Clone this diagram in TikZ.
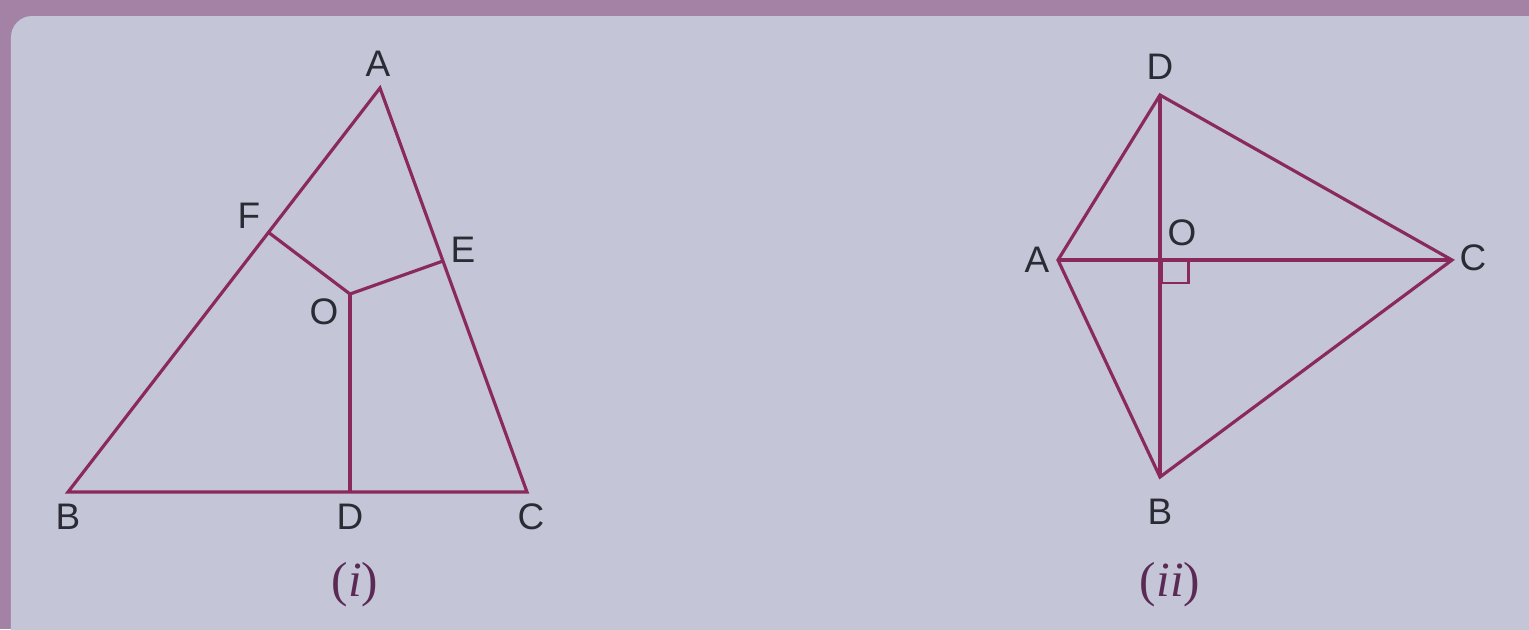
\documentclass[tikz,border=0pt]{standalone}
\usepackage{fontspec}
\setmainfont{Liberation Serif}
\setsansfont{Liberation Sans}
\usetikzlibrary{positioning}

\definecolor{frame}{HTML}{A482A6}
\definecolor{panel}{HTML}{C4C5D6}
\definecolor{edge}{HTML}{8A2A5C}
\definecolor{ink}{HTML}{2B2B36}
\definecolor{capt}{HTML}{5A2A55}

\begin{document}
\begin{tikzpicture}[
  x=0.01cm, y=-0.01cm,
  seg/.style={draw=edge, line width=0.9pt, line join=miter},
  lbl/.style={text=ink, inner sep=0pt, font=\sffamily\fontsize{10.5}{12}\selectfont},
  figcap/.style={text=capt, inner sep=0pt, font=\fontsize{14}{16}\selectfont},
]
  % --- background ---
  \useasboundingbox (0,0) rectangle (1529,629);
  \clip (0,0) rectangle (1529,629);
  \fill[frame] (0,0) rectangle (1529,629);
  \fill[panel, rounded corners=6pt] (11,16) rectangle (1560,660);

  % --- figure (i): triangle with O joined to the sides ---
  \coordinate (A) at (380,88);
  \coordinate (B) at (68,492);
  \coordinate (C) at (527,492);
  \coordinate (D) at (350,492);
  \coordinate (E) at (443,261);
  \coordinate (F) at (268,232);
  \coordinate (O) at (350,294);
  \draw[seg] (A) -- (B) -- (C) -- cycle;
  \draw[seg] (F) -- (O) -- (E);
  \draw[seg] (O) -- (D);

  \node[lbl] (lA) at (378,64) {A};
  \node[lbl] (lB) at (68,517) {B};
  \node[lbl] (lC) at (531,517) {C};
  \node[lbl] (lD) at (350,517) {D};
  \node[lbl] (lE) at (463,250) {E};
  \node[lbl] (lF) at (249,216) {F};
  \node[lbl] (lO) at (324,312) {O};
  \node[figcap] (capi) at (355,585) {(\textit{i})};

  % --- figure (ii): quadrilateral with perpendicular diagonals ---
  \coordinate (P) at (1160,95);
  \coordinate (Q) at (1058,260);
  \coordinate (R) at (1452,260);
  \coordinate (S) at (1160,477);
  \coordinate (T) at (1160,260);
  \draw[seg] (P) -- (R) -- (S) -- (Q) -- cycle;
  \draw[seg] (P) -- (S);
  \draw[seg] (Q) -- (R);
  \draw[seg, line width=0.8pt] ([xshift=0.5pt]T) |- ++(27,23) -- ++(0,-23);

  \node[lbl] (lP) at (1160,67) {D};
  \node[lbl] (lQ) at (1037,260) {A};
  \node[lbl] (lR) at (1473,258) {C};
  \node[lbl] (lS) at (1160,512) {B};
  \node[lbl] (lT) at (1182,233) {O};
  \node[figcap] (capii) at (1170,585) {(\textit{ii})};
\end{tikzpicture}
\end{document}
